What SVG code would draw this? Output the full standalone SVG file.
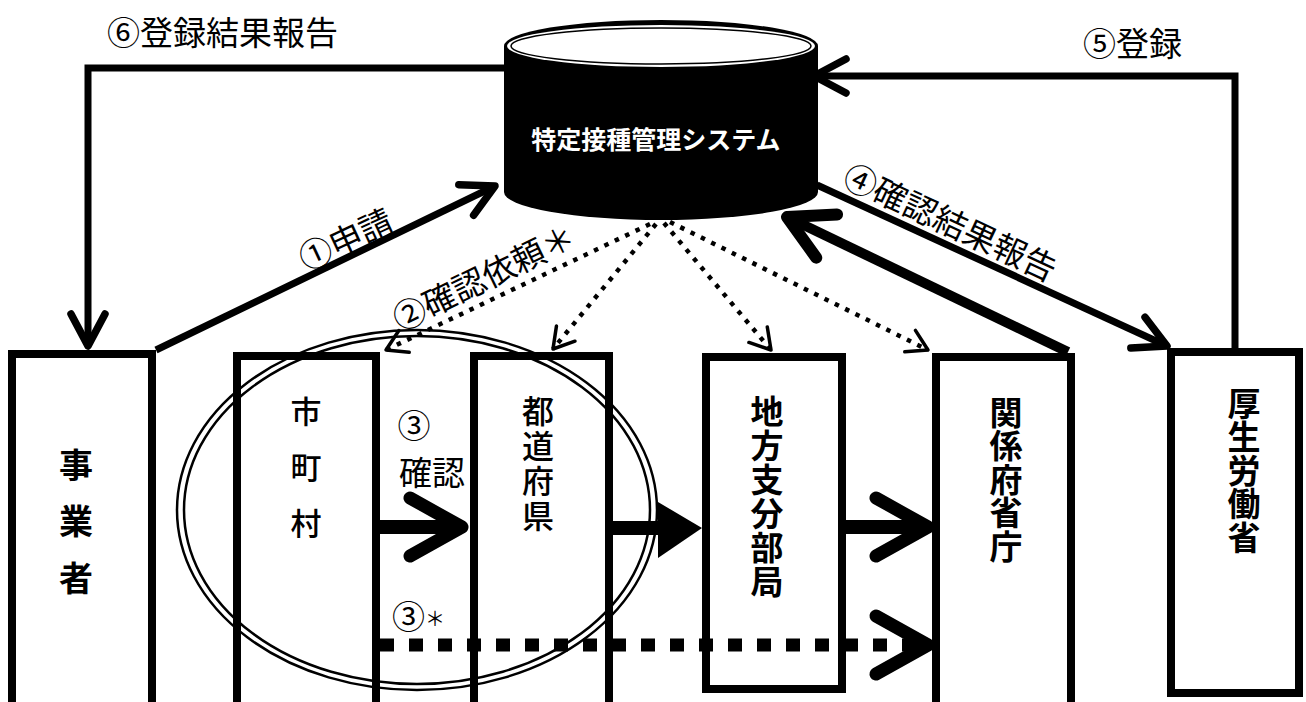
<svg xmlns="http://www.w3.org/2000/svg" width="1306" height="702" viewBox="0 0 1306 702">
<style>
text{font-family:"Noto Sans CJK JP","Noto Sans CJK SC",sans-serif;fill:#000}
.lbl{font-size:33px;dominant-baseline:central}
.box{fill:#fff;stroke:#000;stroke-width:8}
.vt{font-weight:bold;writing-mode:vertical-rl;text-anchor:start}
.vm{font-weight:500;writing-mode:vertical-rl;text-anchor:start}
.ln{fill:none;stroke:#000;stroke-width:7}
.big{fill:none;stroke:#000;stroke-width:14}
.dot{fill:none;stroke:#000;stroke-width:4.5;stroke-dasharray:4.5 7}
</style>
<defs>
<marker id="v" markerUnits="userSpaceOnUse" viewBox="-60 -40 70 80" refX="0" refY="0" markerWidth="70" markerHeight="80" orient="auto" overflow="visible">
<path d="M-32,-17 L0,0 L-32,17" fill="none" stroke="#000" stroke-width="7.5" stroke-linecap="round" stroke-linejoin="round"/>
</marker>
<marker id="vt" markerUnits="userSpaceOnUse" viewBox="-60 -40 70 80" refX="0" refY="0" markerWidth="70" markerHeight="80" orient="auto" overflow="visible">
<path d="M-44,-24 L0,0 L-44,24" fill="none" stroke="#000" stroke-width="12" stroke-linecap="round" stroke-linejoin="round"/>
</marker>
<marker id="vb" markerUnits="userSpaceOnUse" viewBox="-70 -40 80 80" refX="0" refY="0" markerWidth="80" markerHeight="80" orient="auto" overflow="visible">
<path d="M-52,-29 L0,0 L-52,29" fill="none" stroke="#000" stroke-width="13" stroke-linecap="round" stroke-linejoin="round"/>
</marker>
<marker id="vs" markerUnits="userSpaceOnUse" viewBox="-30 -20 40 40" refX="0" refY="0" markerWidth="40" markerHeight="40" orient="auto" overflow="visible">
<path d="M-20,-12 L0,0 L-20,12" fill="none" stroke="#000" stroke-width="3.5" stroke-linecap="round" stroke-linejoin="round"/>
</marker>
</defs>
<rect width="1306" height="702" fill="#fff"/>

<g id="jigyosha">
<rect class="box" x="12" y="354" width="140" height="370"/>
<text class="vt" x="76" y="448" font-size="34" letter-spacing="22.5">事業者</text>
</g>
<g id="shichoson">
<rect class="box" x="237" y="356" width="139" height="370"/>
<text class="vm" x="306" y="395.5" font-size="31" letter-spacing="25">市町村</text>
</g>
<g id="todofuken">
<rect class="box" x="474" y="356" width="135" height="370"/>
<text class="vm" x="538" y="395" font-size="32" letter-spacing="3">都道府県</text>
</g>
<g id="chihoshibunbukyoku">
<rect class="box" x="706" y="357" width="136" height="332"/>
<text class="vt" x="767" y="394.5" font-size="33" letter-spacing="1">地方支分部局</text>
</g>
<g id="kankeifushocho">
<rect class="box" x="936" y="357" width="135" height="370"/>
<text class="vt" x="1006" y="395.5" font-size="33" letter-spacing="0.5">関係府省庁</text>
</g>
<g id="koseirodosho">
<rect class="box" x="1171" y="352" width="128" height="341"/>
<text class="vt" x="1244" y="386.5" font-size="33" letter-spacing="0.5">厚生労働省</text>
</g>

<g id="connectors">
<path class="ln" d="M504,68 H88 V346" marker-end="url(#v)"/>
<path class="ln" d="M1235,348 V76 H814" marker-end="url(#v)"/>
<line class="ln" x1="156" y1="350" x2="495" y2="186" marker-end="url(#v)"/>
<line class="ln" x1="817" y1="185" x2="1167" y2="346" marker-end="url(#v)"/>
<line fill="none" stroke="#000" stroke-width="10" x1="1068" y1="352" x2="787" y2="217" marker-end="url(#vt)"/>
<line class="dot" x1="650" y1="224" x2="386" y2="350" marker-end="url(#vs)"/>
<line class="dot" x1="656" y1="224" x2="553" y2="349" marker-end="url(#vs)"/>
<line class="dot" x1="664" y1="223" x2="771" y2="350" marker-end="url(#vs)"/>
<line class="dot" x1="670" y1="222" x2="928" y2="350" marker-end="url(#vs)"/>
<line class="big" x1="380" y1="527" x2="462" y2="527" marker-end="url(#vb)"/>
<line class="big" x1="613" y1="528" x2="664" y2="528"/>
<polygon points="658,502 702,528 658,558" fill="#000"/>
<line class="big" x1="846" y1="527" x2="928" y2="527" marker-end="url(#vb)"/>
<line fill="none" stroke="#000" stroke-width="13" stroke-dasharray="14 15" x1="380" y1="645" x2="918" y2="645"/>
<line stroke="none" x1="900" y1="645" x2="928" y2="645" marker-end="url(#vb)"/>
<text class="lbl" x="107" y="31">⑥登録結果報告</text>
<text class="lbl" x="1083" y="42">⑤登録</text>
<text class="lbl" text-anchor="middle" transform="translate(345,238) rotate(-25)">①申請</text>
<text class="lbl" text-anchor="middle" transform="translate(483,276) rotate(-26)">②確認依頼＊</text>
<text class="lbl" text-anchor="middle" transform="translate(951,221) rotate(25)">④確認結果報告</text>
<text class="lbl" text-anchor="middle" x="414" y="424" font-size="30">③</text>
<text class="lbl" text-anchor="middle" x="432" y="471" font-size="32">確認</text>
<text class="lbl" x="392" y="615">③<tspan font-size="20" dy="2">＊</tspan></text>
</g>

<g id="group-ellipse" fill="none" stroke="#000" stroke-width="2.5">
<ellipse cx="417" cy="510" rx="240" ry="180"/>
<ellipse cx="417" cy="510" rx="233" ry="174"/>
</g>

<g id="system">
<path d="M504,46 L504,192 A157,28 0 0 0 818,192 L818,46 A157,26 0 0 0 504,46 Z" fill="#000"/>
<ellipse cx="661" cy="46" rx="154" ry="21" fill="#fff"/>
<ellipse cx="661" cy="46" rx="150" ry="18" fill="none" stroke="#000" stroke-width="1.5"/>
<text x="656" y="138" fill="#fff" style="fill:#fff" font-size="25" font-weight="bold" text-anchor="middle" dominant-baseline="central">特定接種管理システム</text>
</g>
</svg>
